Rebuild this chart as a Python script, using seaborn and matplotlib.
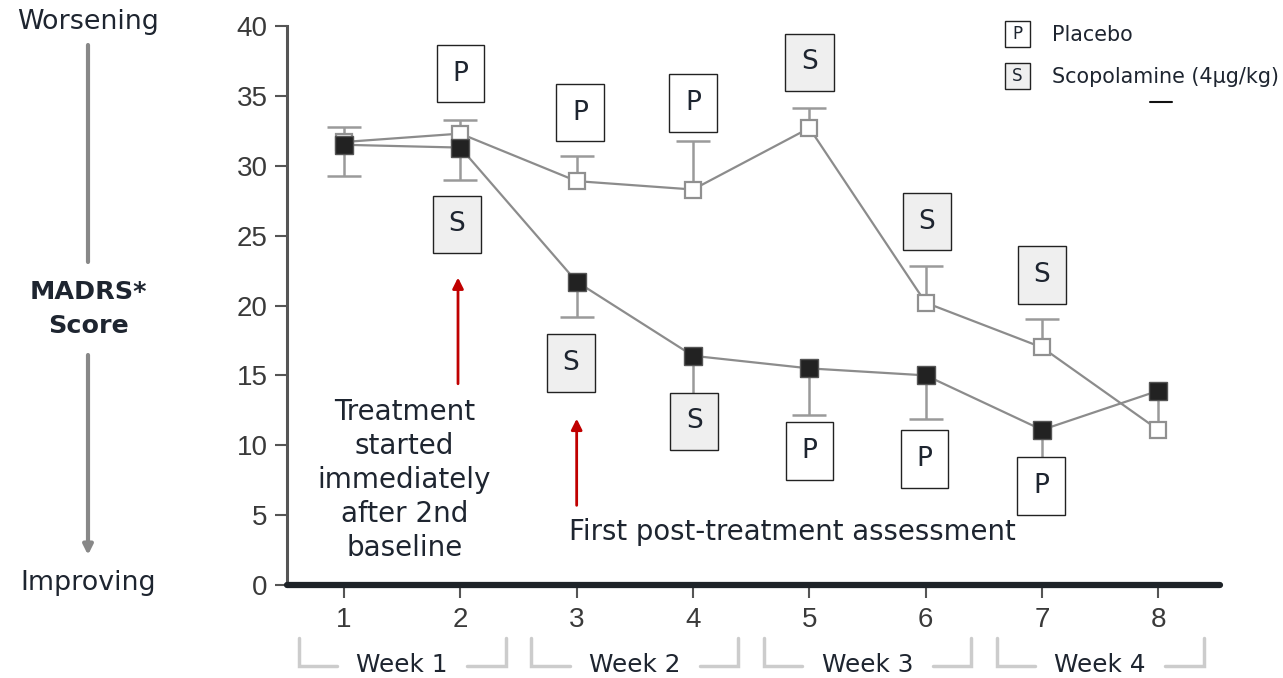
import pandas as pd
import matplotlib.pyplot as plt
import seaborn as sns
from matplotlib.patches import Rectangle
from matplotlib.lines import Line2D

# data
visits = [1, 2, 3, 4, 5, 6, 7, 8]
placebo = [31.7, 32.3, 28.9, 28.3, 32.7, 20.2, 17.0, 11.1]
placebo_err = [1.1, 1.0, 1.8, 3.5, 1.4, 2.6, 2.0, 0.0]
scopolamine = [31.5, 31.3, 21.7, 16.4, 15.5, 15.0, 11.1, 13.9]
scopolamine_err = [2.2, 2.3, 2.5, 2.9, 3.3, 3.1, 2.3, 2.8]

# treatment label boxes
upper_labels = ['P', 'P', 'P', 'S', 'S', 'S']
lower_labels = ['S', 'S', 'S', 'P', 'P', 'P']
label_visits = [2, 3, 4, 5, 6, 7]

weeks = ['Week 1', 'Week 2', 'Week 3', 'Week 4']
week_centers = [1.5, 3.5, 5.5, 7.5]

df = pd.DataFrame({'visit': visits, 'placebo': placebo, 'scopolamine': scopolamine,
                   'placebo_top': [p + e for p, e in zip(placebo, placebo_err)],
                   'scop_bottom': [s - e for s, e in zip(scopolamine, scopolamine_err)]})

sns.set_theme(style='white')
plt.rcParams['font.family'] = ['DejaVu Sans']
TXT = '#1e2530'

fig = plt.figure(figsize=(12.83, 6.78), dpi=100)
ax = fig.add_axes([287/1283, 93/678, (1220-287)/1283, 559/678])

# one-sided error bars: placebo up, scopolamine down
ecol = '#9a9a9a'
pe = df[df['placebo_top'] > df['placebo']]
ax.vlines(pe['visit'], pe['placebo'], pe['placebo_top'], color=ecol, lw=1.8, zorder=2)
ax.plot(pe['visit'], pe['placebo_top'], ls='none', marker='_', markersize=25, markeredgewidth=1.8,
        color=ecol, zorder=2)
se = df[df['scop_bottom'] < df['scopolamine']]
ax.vlines(se['visit'], se['scop_bottom'], se['scopolamine'], color=ecol, lw=1.8, zorder=2)
# no cap where the bar ends inside the placebo marker
sc = se[(se['scop_bottom'] - se['placebo']).abs() > 0.5]
ax.plot(sc['visit'], sc['scop_bottom'], ls='none', marker='_', markersize=25, markeredgewidth=1.8,
        color=ecol, zorder=2)

sns.lineplot(data=df, x='visit', y='placebo', ax=ax, color='#8c8c8c', lw=1.6,
             marker='s', markersize=12, markerfacecolor='white', markeredgecolor='#909090',
             markeredgewidth=1.6, zorder=3)
sns.lineplot(data=df, x='visit', y='scopolamine', ax=ax, color='#8c8c8c', lw=1.6,
             marker='s', markersize=13, markerfacecolor='#222222', markeredgecolor='#555555',
             markeredgewidth=1.0, zorder=4)

ax.set_xlim(0.51, 8.53)
ax.set_ylim(0, 40)
ax.set_xticks(visits)
ax.set_yticks(range(0, 41, 5))
ax.set_xlabel('')
ax.set_ylabel('')
tick_font = ['Liberation Sans Narrow', 'Liberation Sans', 'DejaVu Sans']
for lab in ax.get_xticklabels() + ax.get_yticklabels():
    lab.set_fontfamily(tick_font)
    lab.set_fontsize(20)
    lab.set_color('#3a3a3a')
ax.tick_params(axis='y', length=9, width=1.5, color='#555555', pad=5)
ax.tick_params(axis='x', length=9, width=1.5, color='#555555', pad=7)
ax.tick_params(left=True, bottom=True)
for s in ['top', 'right']:
    ax.spines[s].set_visible(False)
ax.spines['left'].set_color('#555555')
ax.spines['left'].set_linewidth(2.2)
ax.spines['bottom'].set_color('#1e2328')
ax.spines['bottom'].set_linewidth(4.5)
ax.spines['bottom'].set_capstyle('round')
ax.spines['bottom'].set_zorder(5)

# P / S boxes
upper_pos = [36.6, 33.8, 34.5, 37.4, 26.0, 22.2]
lower_pos = [25.8, 15.9, 11.7, 9.6, 9.0, 7.1]
upper_dx = [0.0, 0.03, 0.0, 0.0, 0.01, 0.0]
lower_dx = [-0.03, -0.05, 0.01, 0.0, -0.01, -0.01]
for labels, ys, dxs in [(upper_labels, upper_pos, upper_dx), (lower_labels, lower_pos, lower_dx)]:
    for v, lab, y, dx in zip(label_visits, labels, ys, dxs):
        fc = '#efefef' if lab == 'S' else 'white'
        ax.text(v + dx, y, lab, ha='center', va='center', fontsize=19, color=TXT, zorder=6, clip_on=False,
                bbox=dict(boxstyle='square,pad=0.6', fc=fc, ec='#222222', lw=1.0))

# red arrows + annotations
red = '#c00000'
ax.annotate('', xy=(1.98, 22.0), xytext=(1.98, 14.4),
            arrowprops=dict(arrowstyle='-|>', color=red, lw=2, mutation_scale=16, shrinkA=0, shrinkB=0))
ax.annotate('', xy=(3.0, 11.9), xytext=(3.0, 5.7),
            arrowprops=dict(arrowstyle='-|>', color=red, lw=2, mutation_scale=16, shrinkA=0, shrinkB=0))
ax.text(1.52, 7.5, 'Treatment\nstarted\nimmediately\nafter 2nd\nbaseline', ha='center', va='center',
        fontsize=20, color=TXT, linespacing=1.27)
ax.text(2.93, 3.8, 'First post-treatment assessment', ha='left', va='center', fontsize=19.8, color=TXT)

# week brackets under the axis
trans = ax.get_xaxis_transform()
half, arm = 0.89, 0.33
for c, w in zip(week_centers, weeks):
    l, r = c - half, c + half
    ax.plot([l, l, l + arm], [-0.095, -0.145, -0.145], transform=trans, clip_on=False,
            color='#cccccc', lw=2.5, solid_joinstyle='miter')
    ax.plot([r - arm, r, r], [-0.145, -0.145, -0.095], transform=trans, clip_on=False,
            color='#cccccc', lw=2.5, solid_joinstyle='miter')
    ax.text(c, -0.143, w, transform=trans, ha='center', va='center', fontsize=17.8, color=TXT)

# left side scale description
fig.text(88/1283, 1 - 22/678, 'Worsening', ha='center', va='center', fontsize=19.4, color=TXT)
fig.text(88/1283, 1 - 583/678, 'Improving', ha='center', va='center', fontsize=19.4, color=TXT)
fig.text(88/1283, 1 - 292/678, 'MADRS*', ha='center', va='center', fontsize=18.3, fontweight='bold', color=TXT)
fig.text(88/1283, 1 - 326/678, 'Score', ha='center', va='center', fontsize=18.3, fontweight='bold', color=TXT)
fig.add_artist(Line2D([88/1283, 88/1283], [1 - 45/678, 1 - 262/678], color='#888888', lw=3))
fig.add_artist(Line2D([88/1283, 88/1283], [1 - 355/678, 1 - 545/678], color='#888888', lw=3))
ax.annotate('', xy=(88/1283, 1 - 555/678), xytext=(88/1283, 1 - 540/678),
            xycoords='figure fraction', textcoords='figure fraction',
            arrowprops=dict(arrowstyle='-|>', color='#888888', lw=3, mutation_scale=14, shrinkA=0, shrinkB=0))

# legend
for ypx, lab, name, fc in [(34, 'P', 'Placebo', 'white'), (76, 'S', 'Scopolamine (4μg/kg)', '#efefef')]:
    fig.add_artist(Rectangle(((1017 - 12.5)/1283, 1 - (ypx + 12.5)/678), 25/1283, 25/678,
                             transform=fig.transFigure, fc=fc, ec='#222222', lw=1.0))
    fig.text(1017/1283, 1 - ypx/678, lab, ha='center', va='center', fontsize=12, color=TXT)
    fig.text(1052/1283, 1 - (ypx + 1)/678, name, ha='left', va='center', fontsize=14.9, color=TXT)
fig.add_artist(Line2D([1150/1283, 1172/1283], [1 - 102/678, 1 - 102/678], color='#111111', lw=1.5))

fig.savefig('out.png', dpi=100)
